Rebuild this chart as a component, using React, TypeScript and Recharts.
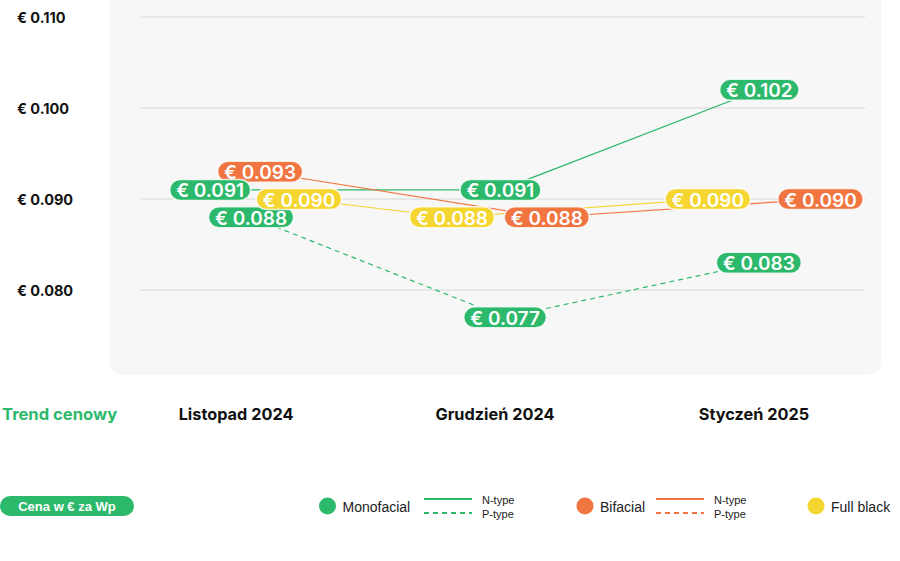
import React from "react";
import { LineChart, Line, XAxis, YAxis, ReferenceLine } from "recharts";

// ---- data ----
const months = ["Listopad 2024", "Grudzień 2024", "Styczeń 2025"];
const monofacialN = [0.091, 0.091, 0.102];
const monofacialP = [0.088, 0.077, 0.083];
const bifacialN = [0.093, 0.088, 0.09];
const fullBlack = [0.09, 0.088, 0.09];
const yTicks = [0.08, 0.09, 0.1, 0.11];
const axisTitle = "Trend cenowy";
const unitLabel = "Cena w € za Wp";

// ---- layout: horizontal stagger of each series' badges (in category units) ----
const stagger: Record<string, number[]> = {
  monoN: [-0.1, 0.021, 0.021],
  monoP: [0.058, 0.039, 0.019],
  bif: [0.093, 0.2, 0.257],
  fb: [0.243, -0.166, -0.178],
};

const GREEN = "#2DB96B";
const ORANGE = "#F07541";
const YELLOW = "#F5D530";
const FONT = "Inter, 'Noto Sans', sans-serif";
const LFONT = "'Liberation Sans', Arial, sans-serif";

const build = (vals: number[], key: string) =>
  vals.map((v, i) => ({ x: i + stagger[key][i], y: v }));

const series = [
  { key: "monoN", data: build(monofacialN, "monoN"), color: GREEN, dash: undefined },
  { key: "monoP", data: build(monofacialP, "monoP"), color: GREEN, dash: "5 4" },
  { key: "bif", data: build(bifacialN, "bif"), color: ORANGE, dash: undefined },
  { key: "fb", data: build(fullBlack, "fb"), color: YELLOW, dash: undefined },
];
const badgeOrder = ["monoP", "fb", "bif", "monoN"];

const fmt = (v: number) => `€ ${v.toFixed(3)}`;

let ctx: CanvasRenderingContext2D | null = null;
const measure = (s: string, font: string) => {
  if (!ctx) ctx = document.createElement("canvas").getContext("2d");
  if (!ctx) return s.length * 10;
  ctx.font = font;
  return ctx.measureText(s).width;
};

const makeBadge = (color: string, name: string) => (props: any) => {
  const { cx, cy, index, payload } = props;
  const label = fmt(payload.y);
  const tw = measure(label, `600 19px ${FONT}`);
  const w = tw + 13;
  const h = 21;
  return (
    <g key={`${name}-${index}`}>
      <rect x={cx - w / 2} y={cy - h / 2} width={w} height={h} rx={h / 2} fill={color} stroke="#ffffff" strokeOpacity={0.8} strokeWidth={1.5} />
      <text x={cx} y={cy + 1} textAnchor="middle" dominantBaseline="central" fill="#fff" fontFamily={FONT} fontWeight={600} fontSize={19}>
        {label}
      </text>
    </g>
  );
};

const YTick = (props: any) => {
  const { y, payload } = props;
  return (
    <text x={17} y={y} textAnchor="start" dominantBaseline="central" fontFamily={FONT} fontWeight={700} fontSize={14.5} fill="#111">
      {fmt(payload.value)}
    </text>
  );
};

const XTick = (props: any) => {
  const { x, payload } = props;
  return (
    <text x={x} y={414} textAnchor="middle" dominantBaseline="central" fontFamily={FONT} fontWeight={700} fontSize={16.3} fill="#111">
      {months[payload.value]}
    </text>
  );
};

const Legend = () => (
  <svg width={900} height={60} style={{ position: "absolute", left: 0, top: 480 }}>
    <rect x={0} y={16} width={134} height={20} rx={10} fill={GREEN} />
    <text x={67} y={26.5} textAnchor="middle" dominantBaseline="central" fill="#fff" fontFamily={LFONT} fontWeight={700} fontSize={13}>
      {unitLabel}
    </text>
    {[
      { c: GREEN, cx: 327.5, name: "Monofacial", lx: 424, tx: 482, types: true },
      { c: ORANGE, cx: 585, name: "Bifacial", lx: 656, tx: 714, types: true },
      { c: YELLOW, cx: 816, name: "Full black", lx: 0, tx: 0, types: false },
    ].map((it) => (
      <g key={it.name}>
        <circle cx={it.cx} cy={26} r={8.5} fill={it.c} />
        <text x={it.cx + 15} y={26.5} dominantBaseline="central" fontFamily={LFONT} fontSize={14} fill="#222">
          {it.name}
        </text>
        {it.types && (
          <g>
            <line x1={it.lx} x2={it.lx + 48} y1={19} y2={19} stroke={it.c} strokeWidth={2} />
            <line x1={it.lx} x2={it.lx + 48} y1={33} y2={33} stroke={it.c} strokeWidth={2} strokeDasharray="5 4" />
            <text x={it.tx} y={19.5} dominantBaseline="central" fontFamily={LFONT} fontSize={11} fill="#222">N-type</text>
            <text x={it.tx} y={33.5} dominantBaseline="central" fontFamily={LFONT} fontSize={11} fill="#222">P-type</text>
          </g>
        )}
      </g>
    ))}
  </svg>
);

export default function App() {
  return (
    <div style={{ position: "absolute", left: 0, top: 0, width: 900, height: 561, background: "#fff", overflow: "hidden" }}>
      <div style={{ position: "absolute", left: 110, top: -20, width: 771, height: 395, background: "#f7f7f7", borderRadius: 12 }} />
      <div style={{ position: "absolute", left: 0, top: 0 }}>
        <LineChart width={900} height={561} margin={{ top: 17, right: 35, bottom: 200, left: 10 }}>
          <XAxis
            type="number"
            dataKey="x"
            domain={[-0.367, 2.429]}
            ticks={[0, 1, 2]}
            allowDataOverflow
            axisLine={false}
            tickLine={false}
            height={30}
            tick={<XTick />}
          />
          <YAxis
            type="number"
            dataKey="y"
            domain={[0.0755, 0.11]}
            ticks={yTicks}
            allowDataOverflow
            axisLine={false}
            tickLine={false}
            width={131}
            tick={<YTick />}
          />
          {yTicks.map((t) => (
            <ReferenceLine key={`grid-${t}`} y={t} stroke="#d8d8d8" strokeWidth={1} />
          ))}
          {series.map((s) => (
            <Line
              key={s.key}
              data={s.data}
              dataKey="y"
              type="linear"
              stroke={s.color}
              strokeWidth={1.2}
              strokeDasharray={s.dash}
              dot={false}
              activeDot={false}
              isAnimationActive={false}
            />
          ))}
          {badgeOrder.map((k) => {
            const s = series.find((q) => q.key === k)!;
            return (
              <Line
                key={`badge-${k}`}
                data={s.data}
                dataKey="y"
                stroke="none"
                dot={makeBadge(s.color, k)}
                activeDot={false}
                isAnimationActive={false}
              />
            );
          })}
        </LineChart>
      </div>
      <div style={{ position: "absolute", left: 2, top: 403, fontFamily: FONT, fontWeight: 700, fontSize: 16.6, color: GREEN, lineHeight: "22px" }}>
        {axisTitle}
      </div>
      <Legend />
    </div>
  );
}
